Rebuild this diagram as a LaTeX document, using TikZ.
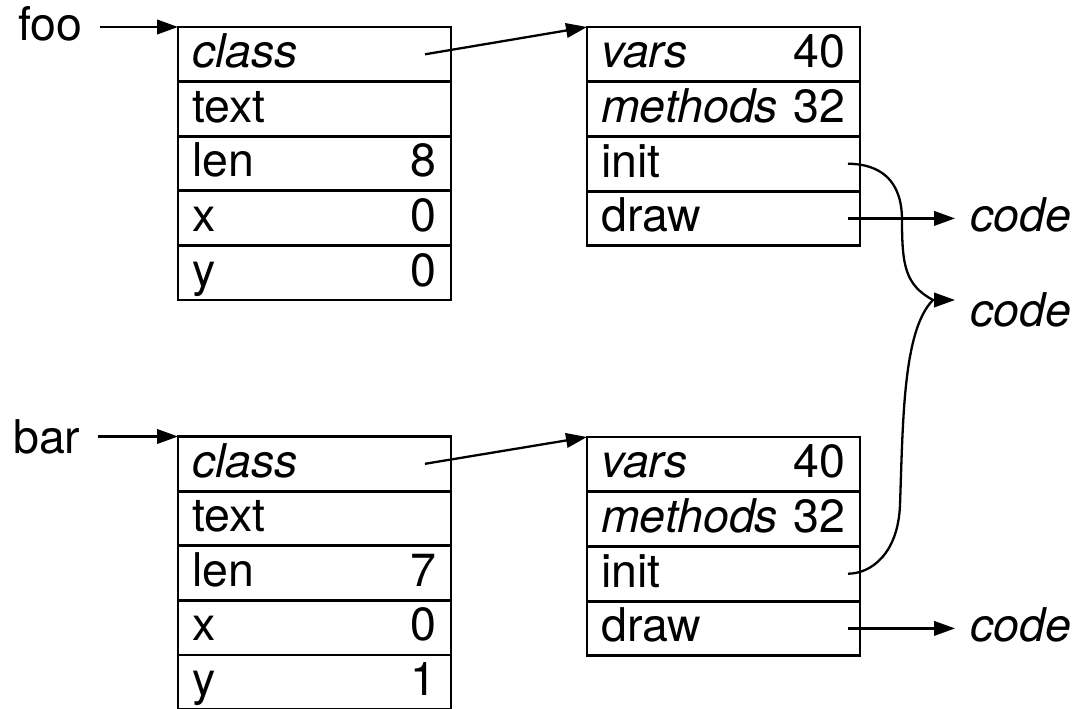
\documentclass[tikz,border=0pt]{standalone}
\usepackage{fontspec}
\setmainfont{TeX Gyre Heros}
\usetikzlibrary{arrows.meta,calc}

% one row of a record: name, top-left corner, key text, value text
\newcommand\recrow[4]{%
  \node[cell] (#1) at #2 {};
  \node[key] (#1-k) at ($(#1.south west)+(14pt,14pt)$) {#3};
  \node[val] (#1-v) at ($(#1.south east)+(-14.5pt,14pt)$) {#4};
}

\begin{document}
\begin{tikzpicture}[x=1pt,y=-1pt,
  txt/.style={inner sep=0pt,font=\fontsize{46.5}{52}\selectfont},
  cell/.style={draw,line width=2.8pt,minimum width=273pt,minimum height=54.6pt,
    inner sep=0pt,outer sep=0pt,anchor=north west},
  key/.style={txt,anchor=base west},
  val/.style={txt,anchor=base east},
  link/.style={line width=2.3pt},
  ptr/.style={link,-{Triangle[length=21pt,width=14.5pt]}}]
\useasboundingbox (0,0) rectangle (1085,709);

% variable names
\node[key] (foo) at (18,40.5) {foo};
\node[key] (bar) at (13,453.3) {bar};

% object foo
\recrow{fA}{(178,27)}{\textit{class}}{}
\recrow{fB}{(178,81.6)}{text}{}
\recrow{fC}{(178,136.2)}{len}{8}
\recrow{fD}{(178,190.8)}{x}{0}
\recrow{fE}{(178,245.4)}{y}{0}

% object bar
\recrow{bA}{(178,436.5)}{\textit{class}}{}
\recrow{bB}{(178,491.1)}{text}{}
\recrow{bC}{(178,545.7)}{len}{7}
\recrow{bD}{(178,600.3)}{x}{0}
\recrow{bE}{(178,654.9)}{y}{1}

% class of foo
\recrow{fk1}{(587,27)}{\textit{vars}}{40}
\recrow{fk2}{(587,81.7)}{\textit{methods}}{32}
\recrow{fk3}{(587,136.4)}{init}{}
\recrow{fk4}{(587,191.1)}{draw}{}

% class of bar
\recrow{bk1}{(587,437)}{\textit{vars}}{40}
\recrow{bk2}{(587,491.7)}{\textit{methods}}{32}
\recrow{bk3}{(587,546.4)}{init}{}
\recrow{bk4}{(587,601.1)}{draw}{}

% code blocks
\node[key] (code1) at ($(fk4.east)+(110pt,-13.3pt)$) {\textit{code}};
\node[key] (code2) at (970,326.7) {\textit{code}};
\node[key] (code3) at ($(bk4.east)+(110pt,-13.3pt)$) {\textit{code}};

% references
\coordinate (foo-out) at ([xshift=17pt]foo.east);
\coordinate (bar-out) at ([xshift=17pt]bar.east);
\draw[ptr] (foo-out |- fA.north west) -- (fA.north west);
\draw[ptr] (bar-out |- bA.north west) -- (bA.north west);
\draw[ptr] ([xshift=-26pt]fA.east) -- (fk1.north west);
\draw[ptr] ([xshift=-26pt]bA.east) -- (bk1.north west);
\draw[ptr] ([xshift=-12pt]fk4.east) -- ([shift={(-15pt,13.3pt)}]code1.base west);
\draw[ptr] ([xshift=-12pt]bk4.east) -- ([shift={(-15pt,13.3pt)}]code3.base west);

% both init methods share one code block
\coordinate (join) at ([shift={(-37pt,26.7pt)}]code2.base west);
\draw[link] ([xshift=-12pt]fk3.east) .. controls (880,164) and (902,180) .. (902,220)
  .. controls (902,265) and (905,285) .. (join);
\draw[link] ([xshift=-12pt]bk3.east) .. controls (870,573.7) and (898,555) .. (900,505)
  .. controls (903,420) and (903,330) .. (join);
\draw[ptr] (join) -- ([shift={(-15pt,26.7pt)}]code2.base west);
\end{tikzpicture}
\end{document}
